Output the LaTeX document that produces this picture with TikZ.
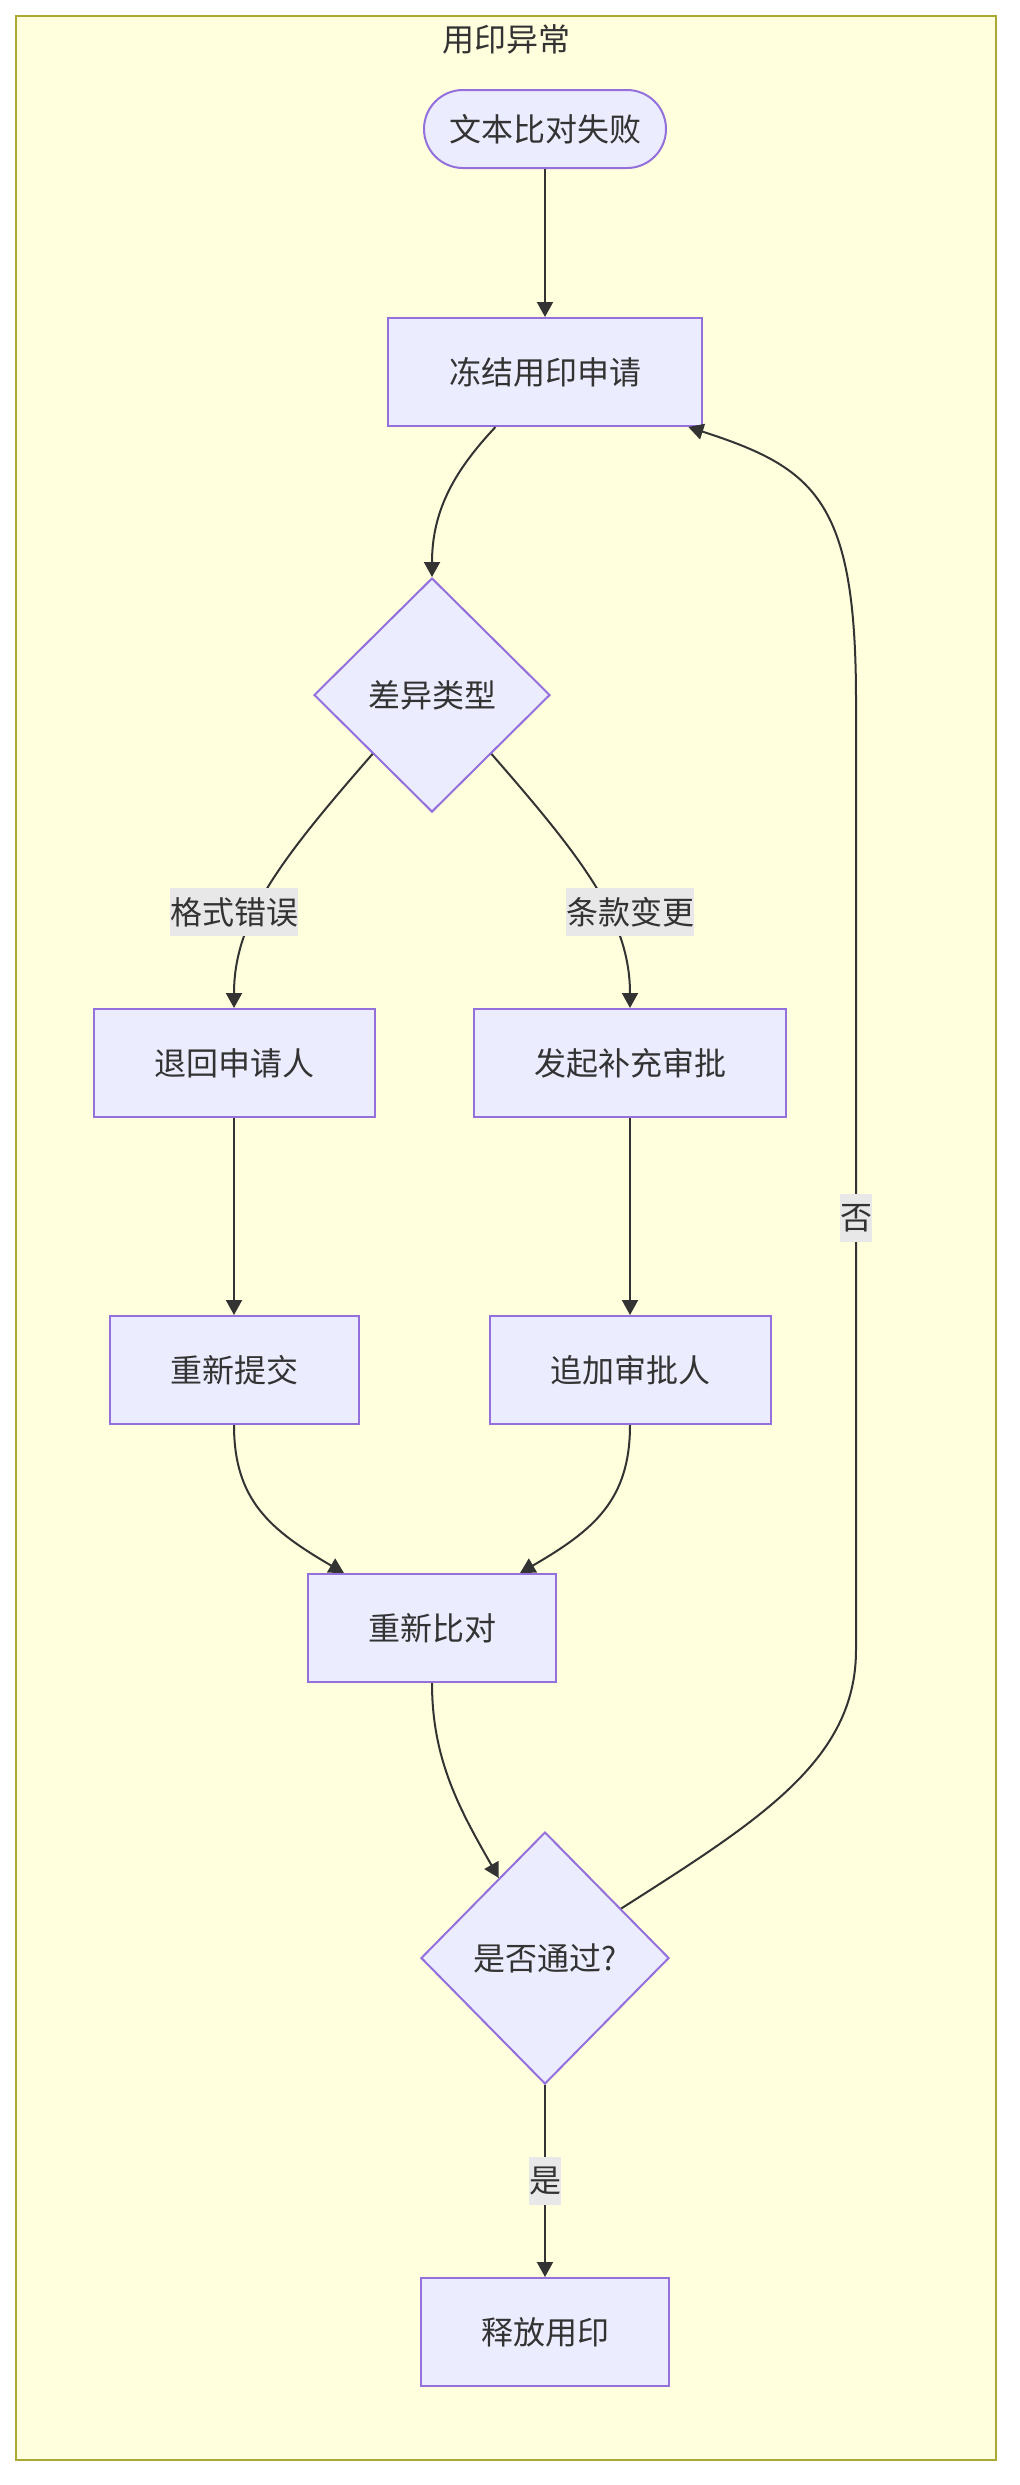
\documentclass[tikz,border=0pt]{standalone}
\usepackage{fontspec}
\setmainfont{Noto Sans CJK SC}
\usepackage{tikz}
\usetikzlibrary{shapes.geometric,arrows.meta}

\definecolor{nodefill}{HTML}{ECECFF}
\definecolor{nodeline}{HTML}{9370DB}
\definecolor{clusterfill}{HTML}{FFFFDE}
\definecolor{clusterline}{HTML}{AAAA33}
\definecolor{inkgray}{HTML}{333333}
\definecolor{labelfill}{HTML}{E8E8E8}

\begin{document}
\begin{tikzpicture}[x=0.5pt,y=-0.5pt,
    every node/.style={text=inkgray, font=\fontsize{16pt}{19pt}\selectfont},
    procbox/.style={rectangle, draw=nodeline, fill=nodefill, line width=1pt, minimum height=54pt, inner sep=0pt},
    termbox/.style={procbox, rounded corners=19.5pt, minimum height=39pt},
    decide/.style={diamond, aspect=1, draw=nodeline, fill=nodefill, line width=1pt, inner sep=0pt},
    flow/.style={draw=inkgray, line width=1pt, -{Triangle[length=7.5pt,width=8pt]}},
    elabel/.style={fill=labelfill, inner xsep=0pt, inner ysep=0pt, minimum height=24pt}]
    \useasboundingbox (0,0) rectangle (1020,2485);
    \fill[white] (0,0) rectangle (1020,2485);

    %Shape: Cluster
    \draw[fill=clusterfill, draw=clusterline, line width=1pt] (16,16) rectangle (996,2460);
    % Text Node
    \node (title) at (506,39) {用印异常};

    %Shape: Nodes
    \node[termbox, minimum width=121pt] (start) at (545,129) {文本比对失败};
    \node[procbox, minimum width=157pt] (freeze) at (545,372) {冻结用印申请};
    \node[decide, minimum width=118pt, minimum height=117pt] (type) at (432,695) {差异类型};
    \node[procbox, minimum width=140.5pt] (back) at (234,1063) {退回申请人};
    \node[procbox, minimum width=156pt] (supp) at (630,1063) {发起补充审批};
    \node[procbox, minimum width=124.5pt] (resub) at (234,1370) {重新提交};
    \node[procbox, minimum width=140.5pt] (addap) at (630,1370) {追加审批人};
    \node[procbox, minimum width=124pt] (cmp) at (432,1628) {重新比对};
    \node[decide, minimum width=124pt, minimum height=126pt] (check) at (545,1958) {是否通过?};
    \node[procbox, minimum width=124pt] (release) at (545,2332) {释放用印};

    %Straight Lines
    \draw[flow] (start) -- (freeze);
    \draw[flow] (back) -- (resub);
    \draw[flow] (supp) -- (addap);
    \draw[flow] (check) -- (release) node[elabel, midway] (lyes) {是};

    %Curve Lines
    \draw[flow] (freeze.228) .. controls (455,470) and (432,510) .. (type.north);
    \draw[flow] (type.south west) .. controls (280,860) and (234,920) .. (back.north)
        node[elabel] (lfmt) at (234,912) {格式错误};
    \draw[flow] (type.south east) .. controls (584,860) and (630,920) .. (supp.north)
        node[elabel] (lterm) at (630,912) {条款变更};
    \draw[flow] (resub.south) .. controls (234,1500) and (270,1530) .. (cmp.148);
    \draw[flow] (addap.south) .. controls (630,1500) and (594,1530) .. (cmp.32);
    \draw[flow] (cmp.south) .. controls (432,1760) and (460,1810) .. (check.120);
    \draw[flow] (check.33) .. controls (760,1820) and (856,1760) .. (856,1650)
        -- (856,700) .. controls (856,500) and (815,468) .. (freeze.339)
        node[elabel] (lno) at (856,1218) {否};
\end{tikzpicture}
\end{document}
